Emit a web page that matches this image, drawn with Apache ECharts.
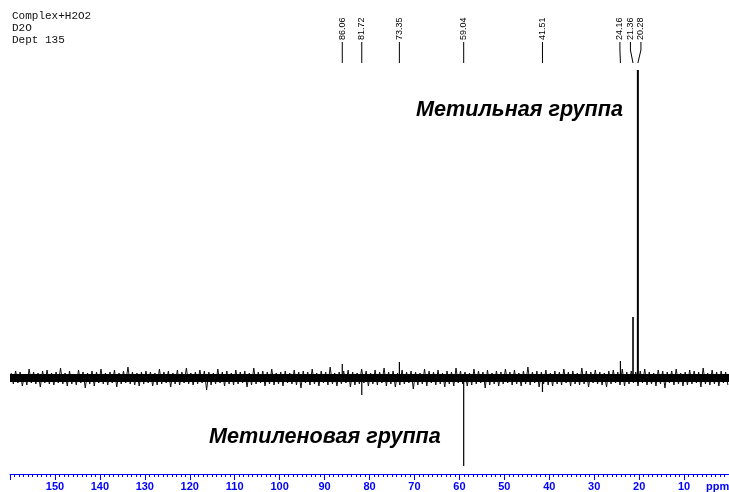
<!DOCTYPE html>
<html>
<head>
<meta charset="utf-8">
<script src="https://cdn.jsdelivr.net/npm/echarts@6/dist/echarts.min.js"></script>
<style>
html,body{margin:0;padding:0;background:#fff;}
#c{width:729px;height:492px;}
</style>
</head>
<body>
<div id="c"></div>
<script>
// Header lines
var headerLines = ['Complex+H2O2', 'D2O', 'Dept 135'];
// Annotations
var upperNote = 'Метильная группа';
var lowerNote = 'Метиленовая группа';
var axisUnit = 'ppm';
// Peaks: chemical shift (ppm) and intensity (baseline = 0)
var peakPpm = [86.06, 81.72, 73.35, 59.04, 41.51, 24.16, 21.36, 20.28];
var peakInt = [14, -17, 16, -88, -14, 17, 61, 308];
// Baseline noise, sampled every 0.5 ppm from 160 ppm downwards
var noiseStart = 160;
var noiseStep = 0.5;
var noise = [
5,-6,7,-5,6,-8,4,-7,9,-5,6,-6,5,-9,7,-5,8,-6,5,-7,
6,-5,10,-6,5,-8,7,-6,4,-7,8,-5,6,-10,5,-6,7,-8,6,-5,
9,-6,5,-7,6,-5,8,-9,5,-6,7,-5,11,-6,6,-7,5,-8,6,-6,
7,-5,6,-8,5,-7,9,-6,6,-5,7,-9,5,-6,8,-7,6,-5,10,-6,
5,-7,6,-6,8,-5,7,-12,6,-7,5,-6,9,-5,6,-8,7,-6,5,-7,
8,-6,6,-5,7,-9,5,-7,10,-6,6,-5,7,-8,6,-6,9,-7,5,-6,
6,-8,7,-5,5,-6,8,-7,6,-10,7,-5,6,-7,9,-6,5,-8,7,-5,
6,-7,11,-6,5,-8,6,-6,7,-5,8,-9,6,-7,5,-6,9,-5,7,-8,
5,-6,8,-7,6,-5,10,-8,6,-6,7,-9,5,-7,8,-6,6,-5,7,-11,
6,-7,5,-6,9,-8,7,-5,6,-7,8,-6,5,-9,7,-6,6,-8,10,-5,
7,-6,6,-8,5,-7,9,-6,7,-5,6,-10,8,-7,5,-6,7,-8,6,-6,
9,-5,6,-7,8,-6,5,-8,7,-6,11,-7,6,-5,7,-9,6,-6,8,-7,
5,-8,7,-6,6,-7,9,-5,6,-8,7,-6,5,-7,10,-6,7,-9,6,-5,
8,-6,6,-7,5,-9,7,-6,8,-5,6,-7,9,-8,6,-6,7,-5,6,-8,
7,-5,9,-7,6,-6,5,-8,8,-6,7,-10,6,-5,7,-7,9,-6,5,-8,
6,-7,8,-6,7,-5,6,-9,10,-6,5,-7,8,-6,6,-8,7,-5,6,-7
];
// Axis range and tick step (ppm)
var ppmMin = 0, ppmMax = 160, ppmTick = 10;

var noiseData = noise.map(function (v, i) {
  return [noiseStart - noiseStep / 2 - noiseStep * i, v];
});
var peakData = peakPpm.map(function (p, i) { return [p, peakInt[i]]; });

var BLUE = '#0000ff';
var SANS = '"Liberation Sans", Arial, sans-serif';

function spreadLabels(xs, gap) {
  var groups = xs.map(function (x) { return { sum: x, n: 1 }; });
  var changed = true;
  function first(g) { return g.sum / g.n - (g.n - 1) * gap / 2; }
  function last(g) { return g.sum / g.n + (g.n - 1) * gap / 2; }
  while (changed) {
    changed = false;
    for (var i = 0; i < groups.length - 1; i++) {
      if (last(groups[i]) + gap > first(groups[i + 1])) {
        groups[i] = { sum: groups[i].sum + groups[i + 1].sum, n: groups[i].n + groups[i + 1].n };
        groups.splice(i + 1, 1);
        changed = true;
        break;
      }
    }
  }
  var out = [];
  groups.forEach(function (g) {
    for (var k = 0; k < g.n; k++) out.push(first(g) + k * gap);
  });
  return out;
}

var chart = echarts.init(document.getElementById('c'), null, { renderer: 'canvas' });
var option = {
  animation: false,
  backgroundColor: '#ffffff',
  grid: { left: 10, right: -1.75, top: 0, bottom: 18, containLabel: false },
  xAxis: {
    type: 'value', min: ppmMin, max: ppmMax, interval: ppmTick, inverse: true,
    axisLine: { show: true, onZero: false, lineStyle: { color: BLUE, width: 1 } },
    axisTick: { show: true, inside: false, length: 6, lineStyle: { color: BLUE, width: 1 } },
    minorTick: { show: true, splitNumber: 10, length: 3, lineStyle: { color: BLUE, width: 1 } },
    splitLine: { show: false },
    axisLabel: {
      color: BLUE, fontWeight: 'bold', fontSize: 11, fontFamily: SANS, margin: 7,
      showMaxLabel: false, showMinLabel: false
    }
  },
  yAxis: { type: 'value', min: -96, max: 378, show: false, splitLine: { show: false } },
  series: [
    {
      type: 'line', data: noiseData, showSymbol: false, symbol: 'none', silent: true,
      lineStyle: { color: '#111', width: 1 },
      markLine: {
        silent: true, symbol: 'none', label: { show: false },
        lineStyle: { color: '#000', width: 8, type: 'solid' },
        data: [{ yAxis: 0 }]
      }
    },
    {
      type: 'custom', data: peakData, silent: true,
      renderItem: function (params, api) {
        var i = params.dataIndex;
        var base = api.coord([api.value(0), 0]);
        var top = api.coord([api.value(0), api.value(1)]);
        var w = peakInt[i] > 200 ? 2 : (peakInt[i] > 40 ? 1.6 : 1.2);
        return {
          type: 'line',
          shape: { x1: base[0], y1: base[1], x2: top[0], y2: top[1] },
          style: { stroke: '#000', lineWidth: w }
        };
      }
    },
    {
      type: 'custom', data: peakData, silent: true,
      renderItem: function (params, api) {
        var i = params.dataIndex;
        var xs = peakPpm.map(function (p) { return api.coord([p, 0])[0]; });
        var lx = spreadLabels(xs, 10.5);
        var px = xs[i];
        var labelX = lx[i];
        return {
          type: 'group',
          children: [
            {
              type: 'polyline',
              shape: { points: [[labelX, 42], [labelX, 50], [px, 63]] },
              style: { stroke: '#000', lineWidth: 1, fill: null }
            },
            {
              type: 'text', x: labelX, y: 40, rotation: Math.PI / 2,
              style: {
                text: peakPpm[i].toFixed(2), fill: '#000',
                font: '9px ' + SANS,
                align: 'left', verticalAlign: 'middle',
                textAlign: 'left', textVerticalAlign: 'middle'
              }
            }
          ]
        };
      }
    }
  ],
  graphic: [
    {
      type: 'group', silent: true,
      children: headerLines.map(function (t, k) {
        return {
          type: 'text', x: 12, y: 16.5 + 12 * k,
          style: {
            text: t, fill: '#111', font: '11px "Liberation Mono", "Courier New", monospace',
            align: 'left', verticalAlign: 'middle', textAlign: 'left', textVerticalAlign: 'middle'
          }
        };
      })
    },
    {
      type: 'text', x: 416, y: 110, silent: true,
      style: {
        text: upperNote, fill: '#000', font: 'italic bold 21.6px ' + SANS,
        align: 'left', verticalAlign: 'middle', textAlign: 'left', textVerticalAlign: 'middle'
      }
    },
    {
      type: 'text', x: 209, y: 437, silent: true,
      style: {
        text: lowerNote, fill: '#000', font: 'italic bold 21.6px ' + SANS,
        align: 'left', verticalAlign: 'middle', textAlign: 'left', textVerticalAlign: 'middle'
      }
    },
    {
      type: 'text', x: 706, y: 487, silent: true,
      style: {
        text: axisUnit, fill: BLUE, font: 'bold 11px ' + SANS,
        align: 'left', verticalAlign: 'middle', textAlign: 'left', textVerticalAlign: 'middle'
      }
    }
  ]
};
chart.setOption(option);
</script>
</body>
</html>
